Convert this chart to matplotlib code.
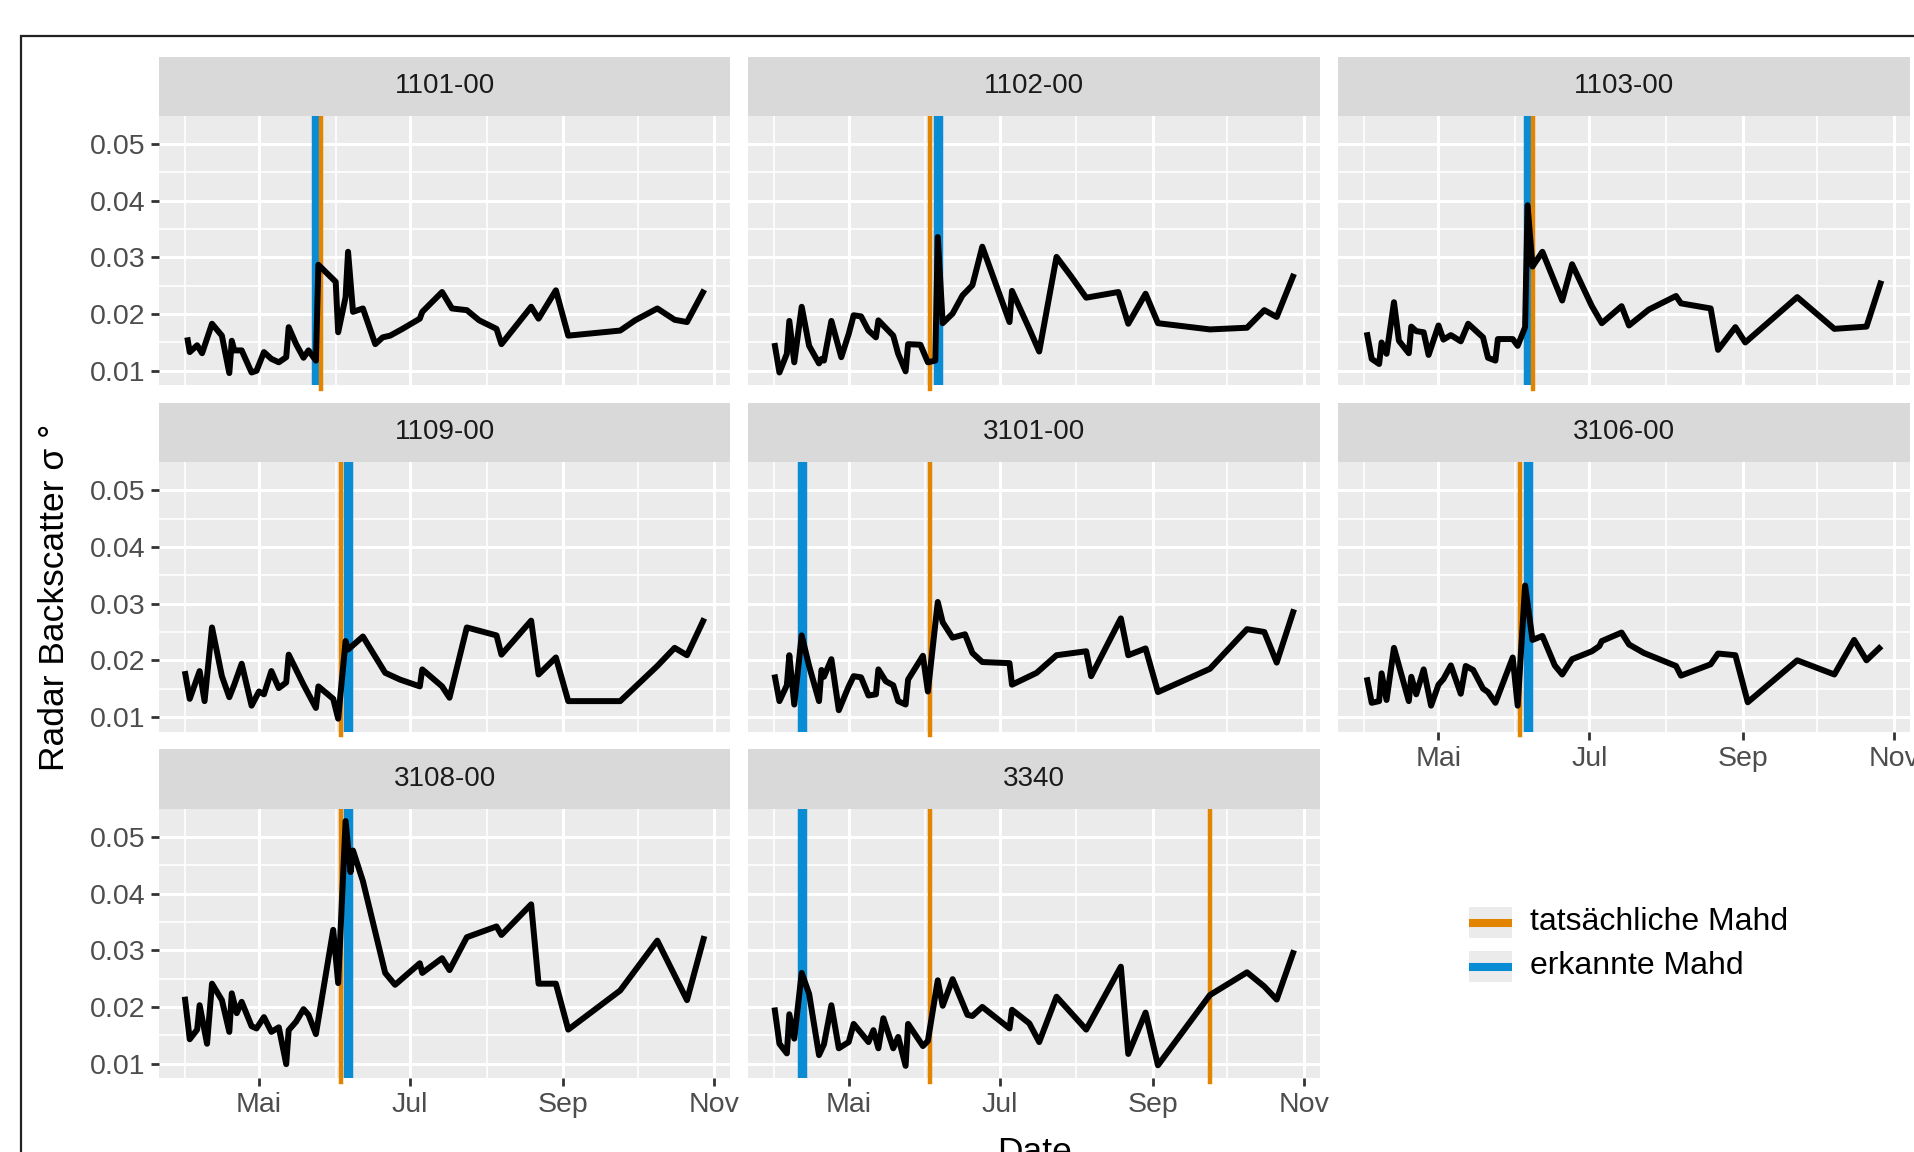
import matplotlib
matplotlib.use("Agg")
import matplotlib.pyplot as plt
import matplotlib.dates as mdates
import numpy as np
import pandas as pd
from matplotlib.patches import Rectangle
from matplotlib.lines import Line2D

plt.rcParams['font.family'] = ['Liberation Sans', 'DejaVu Sans']

YEAR = 2018

# ---------------- data ----------------
panels = ["1101-00", "1102-00", "1103-00", "1109-00", "3101-00", "3106-00", "3108-00", "3340"]

dates_1101 = ["04-02","04-03","04-06","04-08","04-12","04-16","04-19","04-20","04-21","04-24","04-28","04-30",
              "05-03","05-06","05-09","05-12","05-13","05-16","05-19","05-21","05-24","05-25","06-01","06-02",
              "06-05","06-06","06-08","06-12","06-17","06-20","06-23","06-28","07-05","07-06","07-14","07-18",
              "07-24","07-29","08-05","08-07","08-19","08-22","08-29","09-03","09-24","09-30","10-09","10-16",
              "10-21","10-28"]
vals_1101 = [0.0159,0.0133,0.0145,0.0131,0.0183,0.0162,0.0096,0.0153,0.0136,0.0136,0.0097,0.0100,
             0.0133,0.0121,0.0115,0.0124,0.0177,0.0147,0.0123,0.0136,0.0118,0.0287,0.0257,0.0168,
             0.0230,0.0310,0.0204,0.0210,0.0147,0.0159,0.0162,0.0174,0.0192,0.0204,0.0239,0.0210,
             0.0207,0.0189,0.0174,0.0147,0.0213,0.0192,0.0242,0.0162,0.0171,0.0189,0.0210,0.0190,
             0.0186,0.0243]

dates_1102 = ["04-01","04-03","04-06","04-07","04-09","04-12","04-15","04-19","04-20","04-21","04-24","04-28",
              "05-01","05-03","05-06","05-09","05-12","05-13","05-19","05-21","05-24","05-25","05-30","06-02",
              "06-05","06-06","06-08","06-12","06-16","06-20","06-24","07-05","07-06","07-13","07-17","07-24",
              "07-30","08-05","08-18","08-22","08-29","09-03","09-24","10-09","10-16","10-21","10-28"]
vals_1102 = [0.0149,0.0097,0.0130,0.0188,0.0115,0.0213,0.0144,0.0113,0.0121,0.0118,0.0188,0.0124,
             0.0165,0.0198,0.0196,0.0171,0.0159,0.0189,0.0162,0.0130,0.0099,0.0147,0.0146,0.0115,
             0.0118,0.0336,0.0184,0.0201,0.0233,0.0251,0.0319,0.0186,0.0241,0.0174,0.0134,0.0301,
             0.0266,0.0229,0.0239,0.0183,0.0236,0.0184,0.0173,0.0176,0.0207,0.0195,0.0271]

dates_1103 = ["04-02","04-04","04-07","04-08","04-10","04-13","04-15","04-19","04-20","04-22","04-25","04-27",
              "05-01","05-03","05-06","05-10","05-13","05-19","05-21","05-24","05-25","05-31","06-02","06-05",
              "06-06","06-08","06-12","06-20","06-24","07-02","07-06","07-14","07-17","07-25","08-05","08-07",
              "08-19","08-22","08-29","09-02","09-23","10-08","10-21","10-27"]
vals_1103 = [0.0168,0.0121,0.0112,0.0150,0.0130,0.0221,0.0153,0.0131,0.0178,0.0170,0.0168,0.0128,
             0.0180,0.0155,0.0163,0.0152,0.0183,0.0159,0.0123,0.0118,0.0156,0.0156,0.0144,0.0177,
             0.0392,0.0284,0.0310,0.0224,0.0288,0.0214,0.0184,0.0214,0.0180,0.0208,0.0232,0.0219,
             0.0210,0.0137,0.0177,0.0150,0.0230,0.0174,0.0178,0.0259]

dates_1109 = ["04-01","04-03","04-07","04-09","04-12","04-16","04-19","04-21","04-24","04-28","05-01","05-03",
              "05-06","05-09","05-12","05-13","05-19","05-24","05-25","05-31","06-02","06-05","06-06","06-12",
              "06-21","06-27","07-05","07-06","07-14","07-17","07-24","08-05","08-07","08-19","08-22","08-29",
              "09-03","09-24","10-09","10-16","10-21","10-28"]
vals_1109 = [0.0181,0.0132,0.0181,0.0128,0.0258,0.0172,0.0135,0.0157,0.0194,0.0120,0.0145,0.0140,
             0.0181,0.0151,0.0161,0.0210,0.0157,0.0116,0.0154,0.0132,0.0097,0.0234,0.0219,0.0242,
             0.0178,0.0166,0.0154,0.0184,0.0154,0.0134,0.0258,0.0244,0.0210,0.0270,0.0175,0.0205,
             0.0128,0.0128,0.0190,0.0222,0.0209,0.0274]

dates_3101 = ["04-01","04-03","04-06","04-07","04-09","04-12","04-15","04-19","04-20","04-21","04-24","04-27",
              "05-01","05-03","05-06","05-09","05-12","05-13","05-16","05-19","05-21","05-24","05-25","05-31",
              "06-02","06-06","06-08","06-12","06-17","06-20","06-24","07-05","07-06","07-16","07-24","08-05",
              "08-07","08-19","08-22","08-29","09-03","09-24","10-09","10-16","10-21","10-28"]
vals_3101 = [0.0175,0.0128,0.0156,0.0209,0.0122,0.0244,0.0190,0.0128,0.0183,0.0171,0.0202,0.0112,
             0.0154,0.0172,0.0170,0.0138,0.0140,0.0184,0.0163,0.0156,0.0128,0.0122,0.0166,0.0208,
             0.0145,0.0303,0.0267,0.0240,0.0246,0.0213,0.0197,0.0195,0.0157,0.0178,0.0209,0.0216,
             0.0172,0.0274,0.0209,0.0221,0.0144,0.0185,0.0255,0.0250,0.0196,0.0290]

dates_3106 = ["04-02","04-04","04-07","04-08","04-10","04-13","04-16","04-19","04-20","04-22","04-25","04-28",
              "05-01","05-03","05-06","05-10","05-12","05-15","05-19","05-21","05-24","05-31","06-02","06-05",
              "06-08","06-12","06-17","06-20","06-24","07-02","07-05","07-06","07-14","07-17","07-23","08-05",
              "08-07","08-19","08-22","08-29","09-03","09-23","10-08","10-16","10-21","10-27"]
vals_3106 = [0.0170,0.0125,0.0128,0.0177,0.0130,0.0222,0.0175,0.0128,0.0171,0.0140,0.0184,0.0120,
             0.0157,0.0167,0.0191,0.0141,0.0190,0.0183,0.0150,0.0144,0.0125,0.0205,0.0120,0.0332,
             0.0236,0.0243,0.0191,0.0175,0.0202,0.0216,0.0225,0.0234,0.0249,0.0228,0.0213,0.0190,
             0.0173,0.0193,0.0212,0.0209,0.0126,0.0200,0.0175,0.0236,0.0200,0.0225]

dates_3108 = ["04-01","04-03","04-06","04-07","04-10","04-12","04-16","04-19","04-20","04-22","04-24","04-28",
              "04-30","05-03","05-06","05-09","05-12","05-13","05-16","05-19","05-21","05-24","05-31","06-02",
              "06-05","06-07","06-08","06-12","06-21","06-25","07-05","07-06","07-14","07-17","07-24","08-05",
              "08-07","08-19","08-22","08-29","09-03","09-24","10-09","10-21","10-28"]
vals_3108 = [0.0218,0.0143,0.0160,0.0203,0.0135,0.0241,0.0212,0.0156,0.0224,0.0189,0.0209,0.0166,
             0.0162,0.0182,0.0156,0.0164,0.0099,0.0159,0.0174,0.0196,0.0186,0.0152,0.0336,0.0242,
             0.0528,0.0438,0.0476,0.0422,0.0260,0.0239,0.0277,0.0260,0.0286,0.0265,0.0323,0.0342,
             0.0327,0.0381,0.0241,0.0241,0.0160,0.0229,0.0317,0.0212,0.0325]

dates_3340 = ["04-01","04-03","04-06","04-07","04-09","04-12","04-15","04-19","04-21","04-24","04-27","05-01",
              "05-03","05-09","05-11","05-13","05-15","05-19","05-21","05-24","05-25","05-31","06-02","06-06",
              "06-08","06-12","06-18","06-20","06-24","07-05","07-06","07-13","07-17","07-24","08-05","08-19",
              "08-22","08-29","09-03","09-24","10-09","10-16","10-21","10-28"]
vals_3340 = [0.0199,0.0135,0.0118,0.0187,0.0144,0.0260,0.0223,0.0115,0.0134,0.0203,0.0127,0.0138,
             0.0170,0.0138,0.0159,0.0127,0.0180,0.0127,0.0147,0.0096,0.0170,0.0131,0.0140,0.0247,
             0.0202,0.0249,0.0186,0.0184,0.0200,0.0162,0.0195,0.0171,0.0138,0.0218,0.0160,0.0271,
             0.0117,0.0190,0.0097,0.0221,0.0261,0.0236,0.0213,0.0300]

# mowing dates: actual ("tatsächliche Mahd") and detected ("erkannte Mahd")
actual_mowing = {"1101-00": ["05-26"], "1102-00": ["06-03"], "1103-00": ["06-08"], "1109-00": ["06-03"],
                 "3101-00": ["06-03"], "3106-00": ["06-03"], "3108-00": ["06-03"], "3340": ["06-03", "09-24"]}
detected_mowing = {"1101-00": ["05-24"], "1102-00": ["06-06"], "1103-00": ["06-06"], "1109-00": ["06-06"],
                   "3101-00": ["04-12"], "3106-00": ["06-06"], "3108-00": ["06-06"], "3340": ["04-12"]}

month_ticks = ["05-01", "07-01", "09-01", "11-01"]
month_labels = ["Mai", "Jul", "Sep", "Nov"]
month_minor = ["04-01", "06-01", "08-01", "10-01"]
y_major = [0.01, 0.02, 0.03, 0.04, 0.05]
legend_labels = ["tatsächliche Mahd", "erkannte Mahd"]

series = {"1101-00": (dates_1101, vals_1101), "1102-00": (dates_1102, vals_1102),
          "1103-00": (dates_1103, vals_1103), "1109-00": (dates_1109, vals_1109),
          "3101-00": (dates_3101, vals_3101), "3106-00": (dates_3106, vals_3106),
          "3108-00": (dates_3108, vals_3108), "3340": (dates_3340, vals_3340)}

ORANGE = "#E38400"
BLUE = "#0A8CD4"


def to_num(md):
    return mdates.date2num(pd.to_datetime([f"{YEAR}-{d}" for d in md]).to_pydatetime())


# ---------------- layout ----------------
W, H = 1915, 1152
fig = plt.figure(figsize=(W / 100, H / 100), dpi=100)
fig.patch.set_facecolor("white")

col_left = [158.8, 748.5, 1338.3]
CW = 571.5
strip_top = [56.5, 402.7, 749.3]
SH = 59.5
PH = 269.3

# shared scales (ggplot-like 5% expansion)
all_x = np.concatenate([to_num(series[p][0]) for p in panels])
all_y = np.concatenate([np.array(series[p][1]) for p in panels])
xs = all_x.max() - all_x.min()
xlim = (all_x.min() - 0.05 * xs, all_x.max() + 0.05 * xs)
ys = all_y.max() - all_y.min()
ylim = (all_y.min() - 0.05 * ys, all_y.max() + 0.05 * ys)
y_minor = [v for v in [0.005, 0.015, 0.025, 0.035, 0.045, 0.055] if ylim[0] < v < ylim[1]]

bottom_panels = {"3108-00", "3340", "3106-00"}

for i, name in enumerate(panels):
    row, col = divmod(i, 3)
    left = col_left[col]
    stop = strip_top[row]
    ptop = stop + SH

    ax = fig.add_axes([left / W, 1 - (ptop + PH) / H, CW / W, PH / H])
    ax.set_facecolor("#EBEBEB")
    for s in ax.spines.values():
        s.set_visible(False)
    ax.set_xlim(xlim)
    ax.set_ylim(ylim)
    ax.set_xticks(to_num(month_ticks))
    ax.set_xticks(to_num(month_minor), minor=True)
    ax.set_yticks(y_major)
    ax.set_yticks(y_minor, minor=True)
    ax.grid(which="major", color="white", lw=2.2)
    ax.grid(which="minor", color="white", lw=1.2)
    ax.set_axisbelow(True)
    ax.tick_params(which="minor", length=0)

    show_x = name in bottom_panels
    show_y = col == 0
    ax.tick_params(axis="x", which="major", length=5.6 if show_x else 0, width=2.0,
                   color="#333333", labelcolor="#4D4D4D", labelsize=20.5, pad=4.5,
                   labelbottom=show_x)
    ax.tick_params(axis="y", which="major", length=5.6 if show_y else 0, width=2.0,
                   color="#333333", labelcolor="#4D4D4D", labelsize=20.5, pad=4.0,
                   labelleft=show_y)
    ax.set_xticklabels(month_labels)
    ax.set_yticklabels([f"{v:.2f}" for v in y_major])

    for d in to_num(detected_mowing[name]):
        ax.axvline(d, color=BLUE, lw=6.8, zorder=2)
    for d in to_num(actual_mowing[name]):
        ax.axvline(d, ymin=-0.013, ymax=1, color=ORANGE, lw=3.2, zorder=2.1, clip_on=False)

    dx, vy = series[name]
    ax.plot(to_num(dx), vy, color="black", lw=4.3, solid_joinstyle="round",
            solid_capstyle="butt", zorder=3)

    sax = fig.add_axes([left / W, 1 - (stop + SH) / H, CW / W, SH / H])
    sax.set_facecolor("#D9D9D9")
    sax.set_xticks([])
    sax.set_yticks([])
    for s in sax.spines.values():
        s.set_visible(False)
    sax.text(0.5, 0.5, name, ha="center", va="center", fontsize=20, color="#1A1A1A",
             transform=sax.transAxes)

# axis titles
fig.text(55 / W, 1 - 597 / H, "Radar Backscatter σ °", rotation=90, ha="center", va="center",
         fontsize=25.5, color="black")
fig.text(1035 / W, 1 - 1136 / H, "Date", ha="center", va="top", fontsize=25.5, color="black")

# legend
legend_colors = [ORANGE, BLUE]
key_tops = [907, 951]
for lab, colr, kt in zip(legend_labels, legend_colors, key_tops):
    fig.add_artist(Rectangle((1469 / W, 1 - (kt + 31) / H), 43 / W, 31 / H,
                             transform=fig.transFigure, facecolor="#EBEBEB", edgecolor="none"))
    yc = 1 - (kt + 15.5) / H
    fig.add_artist(Line2D([1469 / W, 1512 / W], [yc, yc], transform=fig.transFigure,
                          color=colr, lw=5.8, solid_capstyle="butt"))
    fig.text(1530 / W, yc, lab, ha="left", va="center", fontsize=23, color="black")

# outer frame (cropped at right/bottom)
fig.add_artist(Rectangle((21 / W, -0.1), 1.2, (1 - 36 / H) + 0.1, transform=fig.transFigure,
                         fill=False, edgecolor="#222222", lw=1.6))

fig.savefig("out.png", dpi=100)
